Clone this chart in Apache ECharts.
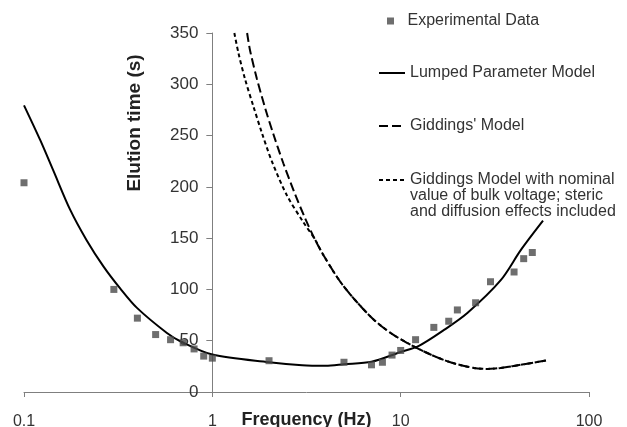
<!DOCTYPE html>
<html lang="en">
<head>
<meta charset="UTF-8">
<title>Elution time vs frequency</title>
<script src="https://cdn.jsdelivr.net/npm/echarts@6/dist/echarts.min.js"></script>
<style>
    html, body { margin: 0; padding: 0; background: #fff; }
    #main { width: 627px; height: 427px; }
</style>
</head>
<body>
<div id="main"></div>
<script>
// experimental points
var expFreq = [0.1, 0.3, 0.4, 0.5, 0.6, 0.7, 0.8, 0.9, 1, 2, 5, 7, 8, 9, 10, 12, 15, 18, 20, 25, 30, 40, 45, 50];
var expTime = [204, 100, 72, 56, 51, 48, 42, 35, 33, 30.5, 29, 26.5, 29, 36, 40.5, 51, 63, 69, 80, 87, 107.5, 117, 130, 136];

// lumped parameter model
var lumpFreq = [0.1, 0.122, 0.143, 0.176, 0.215, 0.264, 0.324, 0.398, 0.574, 0.676, 1, 2, 3, 4, 5, 7, 10, 12.5, 17, 22.6, 34, 43.5, 57];
var lumpTime = [279.5, 245.5, 216, 177.5, 148, 122.5, 101, 82, 57.5, 49.5, 36.5, 29, 26, 25.5, 27, 29.5, 39, 45, 60.5, 77, 109, 138.5, 167];

// Giddings' model
var gidFreq = [1.53, 1.586, 1.721, 1.906, 2.108, 2.382, 2.748, 3.106, 3.5, 3.9, 4.8, 5.9, 7.2, 8.85, 10.8, 13.3, 16.5, 20, 24.5, 29, 34, 45, 60];
var gidTime = [350, 333, 306, 277, 251.5, 223, 193, 169.5, 149, 133, 107, 87, 70.5, 57.5, 48, 39.5, 32, 27, 23.5, 22.5, 23.5, 27, 31];

// Giddings model, nominal bulk voltage
var nomFreq = [1.309, 1.374, 1.492, 1.652, 1.83, 2.069, 2.484, 3.043, 3.5, 3.9, 4.8, 5.9, 7.2, 8.85, 10.8, 13.3, 16.5, 20, 24.5, 29, 34, 45, 60];
var nomTime = [350, 331, 305, 278.5, 253, 225, 192, 165.5, 149, 133, 107, 87, 70.5, 57.5, 48, 39.5, 32, 27, 23.5, 22.5, 23.5, 27, 31];

var xTicks = [0.1, 1, 10, 100];
var yMin = 0, yMax = 350, yStep = 50;

var NOMINAL = 'Giddings Model with nominal\nvalue of bulk voltage; steric\nand diffusion effects included';
var FONT = 'Liberation Sans, Arial, Helvetica, sans-serif';

function pairs(xs, ys) {
    var out = [];
    for (var i = 0; i < xs.length; i++) out.push([xs[i], ys[i]]);
    return out;
}

var gridLeft = 24, gridRight = 38;
// one decade in pixels -> y axis sits at f = 1
var decadePx = (627 - gridLeft - gridRight) / (Math.log10(xTicks[xTicks.length - 1]) - Math.log10(xTicks[0]));
var yAxisShift = decadePx * (Math.log10(1) - Math.log10(xTicks[0]));

var legendText = { fontFamily: FONT, fontSize: 16, color: '#333', lineHeight: 16 };
function legendBox(item, left, top, w, h) {
    return {
        data: [item], orient: 'vertical', left: left, top: top, padding: 0,
        itemWidth: w, itemHeight: h, selectedMode: false, textStyle: legendText,
        itemStyle: { opacity: 0 }
    };
}

var scatterLegend = legendBox({ name: 'Experimental Data', icon: 'path://M0,0H10V10H0Z' }, 387, 13, 24, 7);
scatterLegend.itemStyle = {};

// icon sits on the middle line, so two blank lines in front put it next to the first one
var nominalLegend = legendBox(NOMINAL, 378, 140, 26, 14);
nominalLegend.formatter = function (name) { return '\n\n' + name; };

var myChart = echarts.init(document.getElementById('main'));
var option = {
    backgroundColor: '#fff',
    animation: false,
    grid: { left: gridLeft, right: gridRight, top: 33, bottom: 35, containLabel: false, outerBoundsMode: 'none' },
    legend: [
        scatterLegend,
        legendBox('Lumped Parameter Model', 378, 65, 26, 14),
        legendBox("Giddings' Model", 378, 118, 26, 14),
        nominalLegend
    ],
    xAxis: {
        type: 'log', logBase: 10, min: xTicks[0], max: xTicks[xTicks.length - 1],
        name: 'Frequency (Hz)', nameLocation: 'middle', nameGap: 19, nameMoveOverlap: false,
        nameTextStyle: { fontFamily: FONT, fontSize: 18, fontWeight: 'bold', color: '#222' },
        axisLine: { onZero: false, lineStyle: { color: '#7f7f7f', width: 1 } },
        axisTick: { show: true, length: 5, lineStyle: { color: '#7f7f7f' } },
        minorTick: { show: false },
        splitLine: { show: false },
        axisLabel: { margin: 22, fontFamily: FONT, fontSize: 16, color: '#333' }
    },
    yAxis: {
        type: 'value', min: yMin, max: yMax, interval: yStep,
        position: 'left', offset: -yAxisShift,
        name: 'Elution time (s)', nameLocation: 'middle', nameGap: 68, nameRotate: 90, nameMoveOverlap: false,
        nameTextStyle: { fontFamily: FONT, fontSize: 19, fontWeight: 'bold', color: '#222', padding: [0, 0, 0, 179] },
        axisLine: { show: true, onZero: false, lineStyle: { color: '#7f7f7f', width: 1 } },
        axisTick: { show: true, length: 6, lineStyle: { color: '#7f7f7f' } },
        splitLine: { show: false },
        axisLabel: { margin: 14, fontFamily: FONT, fontSize: 17, color: '#333' }
    },
    series: [
        {
            name: 'Experimental Data', type: 'scatter', symbol: 'rect', symbolSize: 7,
            itemStyle: { color: '#4a4a4a' },
            data: pairs(expFreq, expTime), z: 5
        },
        {
            name: 'Lumped Parameter Model', type: 'line', symbol: 'none', smooth: 0.3,
            lineStyle: { color: '#000', width: 2 },
            itemStyle: { color: '#000' },
            data: pairs(lumpFreq, lumpTime)
        },
        {
            name: "Giddings' Model", type: 'line', symbol: 'none', smooth: 0.3,
            lineStyle: { color: '#000', width: 2, type: [9, 4] },
            itemStyle: { color: '#000' },
            data: pairs(gidFreq, gidTime)
        },
        {
            name: NOMINAL, type: 'line', symbol: 'none', smooth: 0.3,
            lineStyle: { color: '#000', width: 2, type: [4, 3] },
            itemStyle: { color: '#000' },
            data: pairs(nomFreq, nomTime)
        }
    ]
};
myChart.setOption(option);
</script>
</body>
</html>
